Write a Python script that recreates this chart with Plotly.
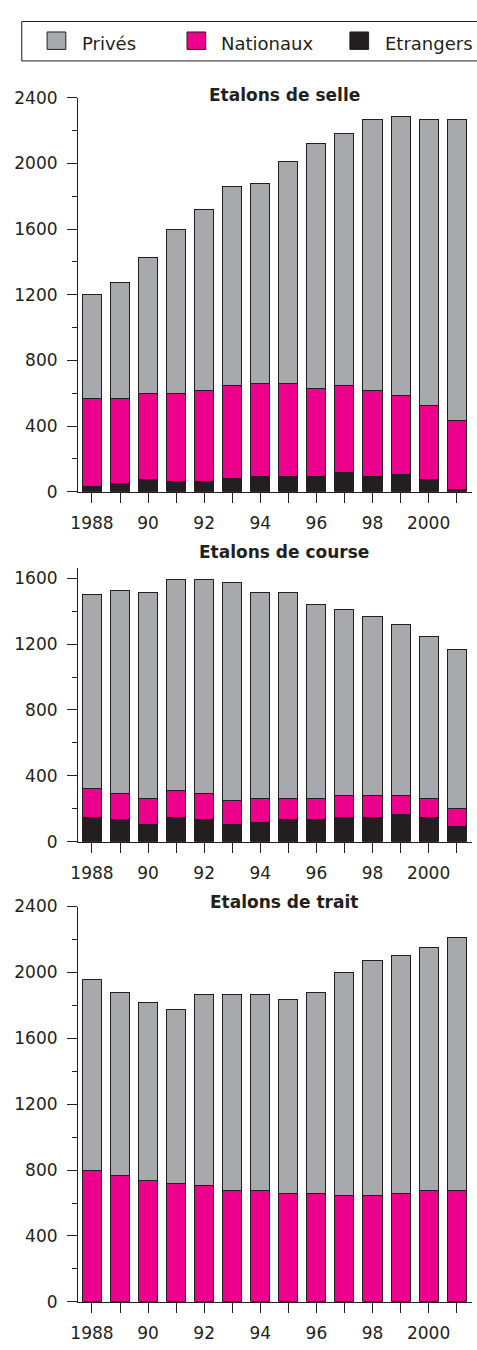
import plotly.graph_objects as go

W, H = 477, 1350

years = [1988, 1989, 1990, 1991, 1992, 1993, 1994, 1995, 1996, 1997, 1998, 1999, 2000, 2001]
year_labels = ["1988", "", "90", "", "92", "", "94", "", "96", "", "98", "", "2000", ""]

series_names = ["Privés", "Nationaux", "Etrangers"]
series_colors = ["#a7a9ac", "#ec008c", "#231f20"]

# Etalons de selle
selle_etrangers = [30, 50, 75, 60, 60, 78, 90, 90, 90, 120, 90, 105, 75, 15]
selle_nationaux = [540, 515, 525, 538, 555, 567, 570, 570, 540, 525, 525, 480, 450, 420]
selle_prives = [630, 710, 825, 1000, 1105, 1215, 1215, 1350, 1490, 1535, 1655, 1700, 1745, 1835]

# Etalons de course
course_etrangers = [150, 135, 105, 150, 135, 105, 120, 135, 135, 150, 150, 165, 150, 90]
course_nationaux = [175, 160, 160, 160, 160, 145, 145, 130, 130, 130, 130, 115, 115, 115]
course_prives = [1175, 1230, 1250, 1280, 1295, 1325, 1250, 1250, 1175, 1130, 1085, 1040, 980, 960]

# Etalons de trait
trait_etrangers = [0, 0, 0, 0, 0, 0, 0, 0, 0, 0, 0, 0, 0, 0]
trait_nationaux = [795, 765, 735, 720, 705, 675, 675, 660, 660, 645, 645, 660, 675, 675]
trait_prives = [1160, 1115, 1085, 1055, 1160, 1190, 1190, 1175, 1220, 1355, 1430, 1445, 1475, 1535]

titles = ["Etalons de selle", "Etalons de course", "Etalons de trait"]
y_ranges = [[0, 2400], [0, 1664], [0, 2400]]
y_tickvals = [[0, 400, 800, 1200, 1600, 2000, 2400],
              [0, 400, 800, 1200, 1600],
              [0, 400, 800, 1200, 1600, 2000, 2400]]

TXT = "#231f20"
FONT = "DejaVu Sans"

# pixel geometry -> paper fractions
def px_x(p):
    return p / W

def px_y(p):
    return 1 - p / H

panels = [
    (selle_etrangers, selle_nationaux, selle_prives, 89, 489, 86),
    (course_etrangers, course_nationaux, course_prives, 566, 844.3, 550),
    (trait_etrangers, trait_nationaux, trait_prives, 910, 1311.3, 905),
]

fig = go.Figure()
layout = dict(
    width=W, height=H,
    margin=dict(l=0, r=0, t=0, b=0),
    paper_bgcolor="white", plot_bgcolor="white",
    barmode="stack", bargap=0.32,
    showlegend=False,
    font=dict(family=FONT, color=TXT, size=17),
)

annotations = []
shapes = []

for i, (etr, nat, priv, ytop, ybot, ytitle) in enumerate(panels):
    n = "" if i == 0 else str(i + 1)
    xa, ya = "x" + n, "y" + n
    vals = [priv, nat, etr]
    for name, color, v in zip(series_names[::-1], series_colors[::-1], vals[::-1]):
        fig.add_trace(go.Bar(
            x=years, y=v, name=name, xaxis=xa, yaxis=ya,
            marker=dict(color=color, line=dict(color=TXT, width=1)),
            width=0.68, showlegend=False,
        ))
    layout["xaxis" + n] = dict(
        domain=[px_x(72), px_x(472)], range=[1987.5, 2001.55], anchor=ya,
        tickmode="array", tickvals=years, ticktext=year_labels,
        ticks="outside", ticklen=10, tickwidth=1, tickcolor=TXT,
        showline=True, linecolor=TXT, linewidth=1, showgrid=False, zeroline=False,
        tickfont=dict(family=FONT, size=17, color=TXT), ticklabelstandoff=6,
        fixedrange=True,
    )
    layout["yaxis" + n] = dict(
        domain=[px_y(ybot), px_y(ytop)], range=y_ranges[i], anchor=xa,
        tickmode="array", tickvals=y_tickvals[i],
        ticks="outside", ticklen=10, tickwidth=1, tickcolor=TXT,
        minor=dict(dtick=200, tick0=200, ticks="outside", ticklen=5, tickwidth=1, tickcolor=TXT, showgrid=False),
        showline=True, linecolor=TXT, linewidth=1, showgrid=False, zeroline=False,
        tickfont=dict(family=FONT, size=17, color=TXT), ticklabelstandoff=6,
        fixedrange=True,
    )
    annotations.append(dict(
        text="<b>" + titles[i] + "</b>", x=px_x(281.5), y=px_y(ytitle),
        xref="paper", yref="paper", xanchor="center", yanchor="middle",
        showarrow=False, font=dict(family=FONT, size=17, color=TXT),
    ))

# legend box (drawn as shapes + text, extending past the right edge as in the reference)
shapes.append(dict(type="rect", xref="paper", yref="paper",
                   x0=px_x(15), x1=px_x(495), y0=px_y(51.7), y1=px_y(11.7),
                   line=dict(color=TXT, width=1), fillcolor="white", layer="above"))
legend_swatch_x = [40.7, 182.7, 348]
legend_text_x = [74, 215, 382]
for name, color, sx, tx in zip(series_names, series_colors, legend_swatch_x, legend_text_x):
    shapes.append(dict(type="rect", xref="paper", yref="paper",
                       x0=px_x(sx), x1=px_x(sx + 19), y0=px_y(40), y1=px_y(22.3),
                       line=dict(color=TXT, width=1), fillcolor=color, layer="above"))
    annotations.append(dict(
        text=name, x=px_x(tx), y=px_y(34.5), xref="paper", yref="paper",
        xanchor="left", yanchor="middle", showarrow=False,
        font=dict(family=FONT, size=18, color=TXT),
    ))

layout["annotations"] = annotations
layout["shapes"] = shapes
fig.update_layout(**layout)

fig.write_html(
    "out.html",
    config={"displayModeBar": False},
    post_script="document.body.style.margin='0';document.body.style.overflow='hidden';",
)
